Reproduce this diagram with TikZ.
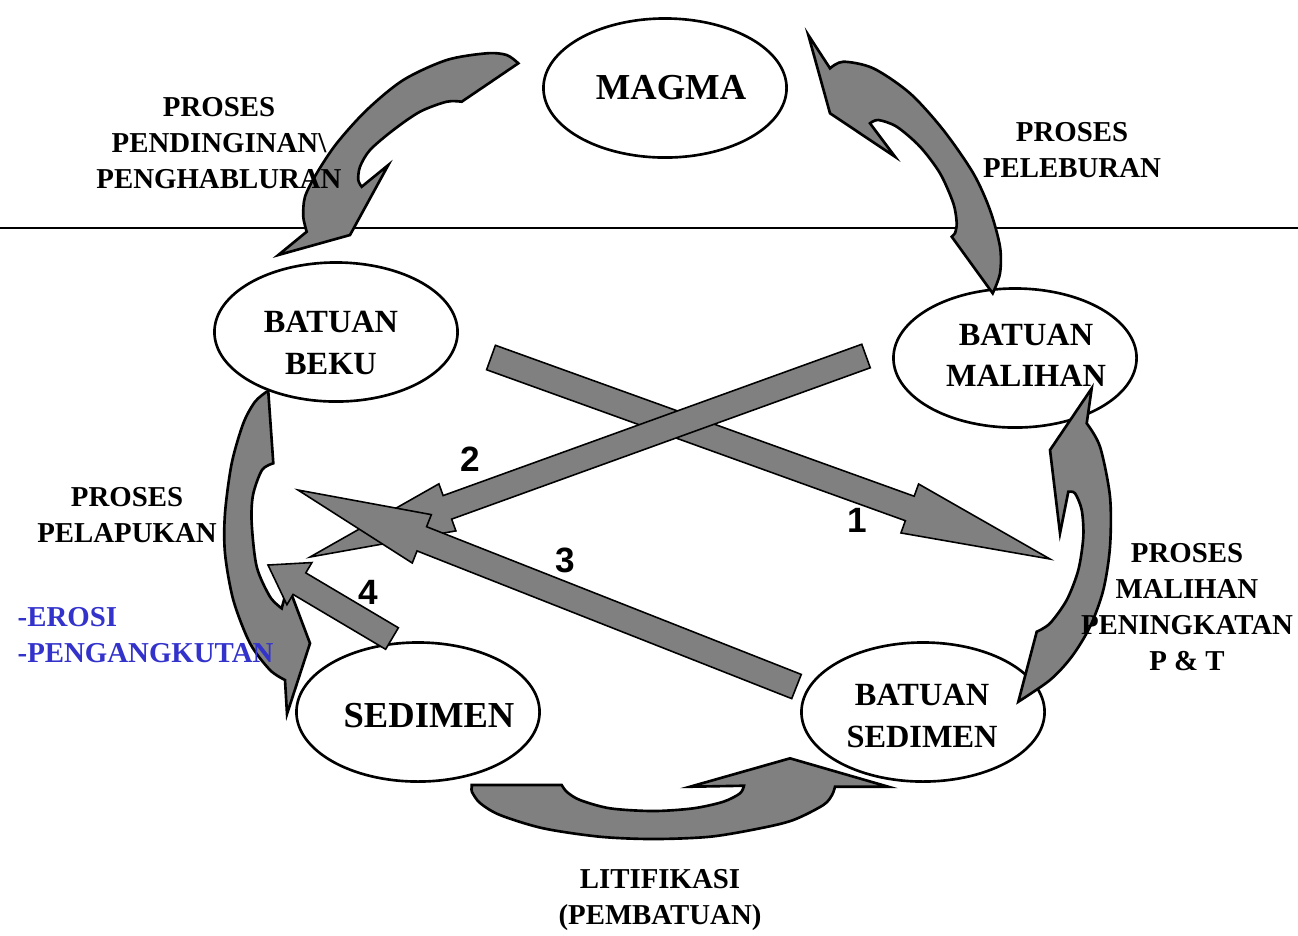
\documentclass[tikz,border=0pt]{standalone}
\usepackage{fontspec}
\setmainfont{Liberation Serif}
\newfontfamily\numfont{Liberation Sans}
\usepackage{tikz}
\usetikzlibrary{calc, shapes.geometric}
\definecolor{arrowgray}{RGB}{128,128,128}
\definecolor{eroblue}{RGB}{51,51,204}

\tikzset{
  rock/.style={ellipse, draw, line width=0.75pt, fill=white, minimum width=2.43cm, minimum height=1.39cm},
  rocktxt/.style={font=\fontsize{9.2}{11.7}\selectfont\bfseries, align=center, inner sep=0pt},
  bigrocktxt/.style={font=\fontsize{10.4}{12}\selectfont\bfseries, inner sep=0pt},
  lbl/.style={font=\fontsize{8.2}{10.2}\selectfont\bfseries, align=center, inner sep=0pt},
  num/.style={font=\numfont\bfseries\fontsize{10}{12}\selectfont, inner sep=0pt},
  curvearrow/.style={fill=arrowgray, draw=black, line width=0.75pt},
  blockarr/.style={fill=arrowgray, draw=black, line width=0.45pt},
}

% straight block arrow: tail, tip, half shaft, head length, half head
\newcommand{\rockarrow}[5]{%
  \coordinate (hb) at ($(#2)!#4!(#1)$);
  \draw[blockarr] ($(#1)!#3!90:(#2)$) -- ($(hb)!#3!90:(#2)$) -- ($(hb)!#5!90:(#2)$)
    -- (#2) -- ($(hb)!#5!-90:(#2)$) -- ($(hb)!#3!-90:(#2)$) -- ($(#1)!#3!-90:(#2)$) -- cycle;
}

\begin{document}
\begin{tikzpicture}[x=0.01cm, y=-0.01cm]
  \useasboundingbox (0,0) rectangle (1298,935);
  \draw[line width=0.4pt] (0,228) -- (1298,228);

  % rocks
  \node[rock] (magma) at (665,88) {};
  \node[rock] (beku) at (336,332) {};
  \node[rock] (malihan) at (1015,358) {};
  \node[rock] (sedimen) at (418,712) {};
  \node[rock] (bsedimen) at (923,712) {};

  % cycle arrows
  \draw[curvearrow] (518.3,63.3) -- (461.7,101.7)
    -- plot[smooth] coordinates {(461.7,101.7) (446.7,101.7) (420,111.7) (393.3,130) (370,150) (360,166.7) (358.3,180) (361.7,186.7)}
    -- (388.3,165) -- (350,235) -- (278.3,255) -- (306.7,231.7)
    -- plot[smooth] coordinates {(306.7,231.7) (303.3,216.7) (305,196.7) (316.7,173.3) (336.7,143.3) (366.7,110) (403.3,80) (446.7,60) (486.7,53.3) (506.7,55) (518.3,63.3)}
    -- cycle;
  \draw[curvearrow] (808.3,35) -- (830,113.3) -- (895,156.7) -- (870,123.3)
    -- plot[smooth] coordinates {(870,123.3) (878.3,120) (896.7,126.7) (920,146.7) (940,173.3) (953.3,203.3) (956.7,223.3) (955,233.3)}
    -- (951.7,236.7) -- (992.7,293.3)
    -- plot[smooth] coordinates {(992.7,293.3) (1000,273.3) (1000,246.7) (990,210) (973.3,173.3) (943.3,130) (910,93.3) (873.3,68.3) (843.3,61.7) (830,68.3)}
    -- cycle;
  \draw[curvearrow] (1091.7,388.3) -- (1050,450) -- (1060,533.3) -- (1068.3,491.7)
    -- plot[smooth] coordinates {(1068.3,491.7) (1075,493.3) (1081.7,510) (1083.3,536.7) (1078.3,570) (1066.7,600) (1050,623.3) (1036.7,631.7)}
    -- (1018.3,701.7)
    -- plot[smooth] coordinates {(1018.3,701.7) (1050,680) (1071.7,656.7) (1090,626.7) (1103.3,590) (1110,546.7) (1110,496.7) (1100,446.7) (1086.7,423.3)}
    -- cycle;
  \draw[curvearrow] (268.3,391.7) -- (273.3,463.3)
    -- plot[smooth] coordinates {(273.3,463.3) (262,470) (253,495) (251.7,523.3) (256.7,566.7) (270,596.7) (281.7,608.3)}
    -- (288,585) -- (310,643.3) -- (287,714) -- (285,680)
    -- plot[smooth] coordinates {(285,680) (270,670) (250,643.3) (233.3,600) (225,553.3) (225,513.3) (231.7,463.3) (243.3,423.3) (255,401.7) (266.7,391.7)}
    -- cycle;
  \draw[curvearrow] (471.7,785) -- (561.7,785)
    -- plot[smooth] coordinates {(561.7,785) (567,792) (580,800) (610,808.3) (653.3,811) (693.3,808.3) (723.3,801.7) (740,793.3) (744,785.7)}
    -- (690,786.7) -- (790,758.3) -- (888.3,786.7) -- (835,786.7)
    -- plot[smooth] coordinates {(835,786.7) (832,795) (823.3,805) (793.3,820) (760,828.3) (710,836.7) (653.3,839) (600,836.7) (543.3,828.3) (500,815) (480,803) (472,792) (471.7,788)}
    -- cycle;

  % cross arrows
  \coordinate (t1) at (491,357.5);  \coordinate (h1) at (1050,559);
  \coordinate (t2) at (866,356);    \coordinate (h2) at (310,557);
  \coordinate (t3) at (796.5,686.5);\coordinate (h3) at (298,490);
  \coordinate (t4) at (392,638.5);  \coordinate (h4) at (268,565);
  \rockarrow{t1}{h1}{0.13cm}{1.49cm}{0.26cm}
  \rockarrow{t2}{h2}{0.125cm}{1.46cm}{0.25cm}
  \rockarrow{t3}{h3}{0.13cm}{1.33cm}{0.26cm}
  \rockarrow{t4}{h4}{0.125cm}{0.365cm}{0.245cm}

  % texts
  \node[bigrocktxt] (magmalbl) at (671,88) {MAGMA};
  \node[rocktxt] (bekulbl) at (331,343) {BATUAN\\BEKU};
  \node[rocktxt] (malihanlbl) at (1026,355) {BATUAN\\MALIHAN};
  \node[bigrocktxt] (sedimenlbl) at (429,716) {SEDIMEN};
  \node[rocktxt] (bsedimenlbl) at (922,716) {BATUAN\\SEDIMEN};

  \node[lbl] (cooling) at (219,143) {PROSES\\PENDINGINAN\textbackslash\\PENGHABLURAN};
  \node[lbl] (melting) at (1072,150) {PROSES\\PELEBURAN};
  \node[lbl] (weathering) at (127,515) {PROSES\\PELAPUKAN};
  \node[lbl, text=eroblue, align=left, anchor=west] (erosion) at (17,635) {-EROSI\\-PENGANGKUTAN};
  \node[lbl] (metamorph) at (1187,607) {PROSES\\MALIHAN\\PENINGKATAN\\P \& T};
  \node[lbl] (lithify) at (660,900) {LITIFIKASI\\(PEMBATUAN)};

  \foreach \n/\x/\y in {1/857/520, 2/470/459, 3/565/560, 4/368/592}
    \node[num] (n\n) at (\x,\y) {\n};
\end{tikzpicture}
\end{document}
